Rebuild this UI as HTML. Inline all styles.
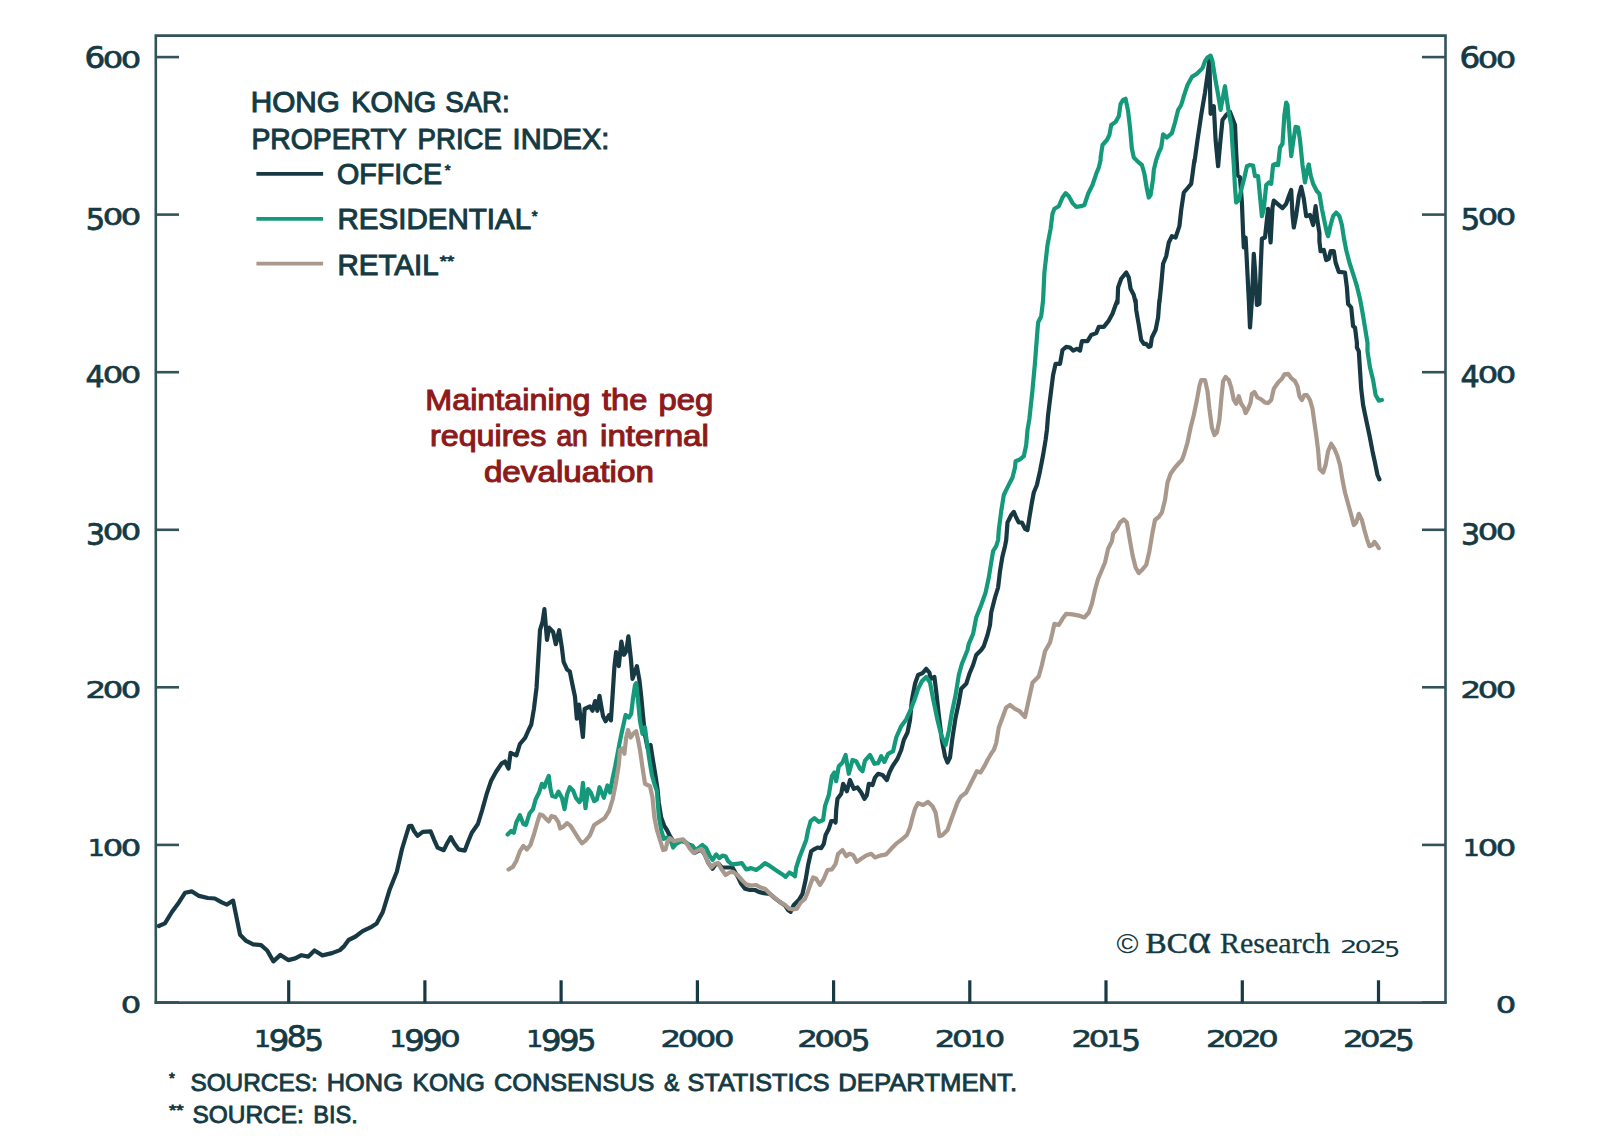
<!DOCTYPE html>
<html lang="en">
<head>
<meta charset="utf-8">
<title>Hong Kong SAR: Property Price Index</title>
<style>html,body{margin:0;padding:0;background:#fff;}body{width:1600px;height:1142px;overflow:hidden;}svg{display:block;}</style>
</head>
<body>
<svg width="1600" height="1142" viewBox="0 0 1600 1142" role="img" aria-label="Hong Kong SAR property price index chart">
<rect width="1600" height="1142" fill="#ffffff"/>
<path d="M158.8,926.0 L164.9,923.4 L171.9,912.0 L178.9,902.4 L185.0,892.8 L192.0,891.4 L199.0,895.9 L207.8,898.0 L214.8,898.5 L221.8,902.4 L227.0,904.6 L233.1,900.6 L235.8,913.8 L240.1,934.8 L246.2,940.9 L253.2,944.4 L261.1,945.2 L267.2,950.5 L273.4,961.4 L280.4,954.9 L288.2,960.1 L295.2,958.4 L301.4,955.2 L308.4,956.6 L314.5,950.5 L322.4,955.4 L332.0,953.1 L339.9,950.1 L344.2,946.1 L348.6,940.0 L355.6,936.5 L362.6,931.2 L370.5,927.4 L376.6,923.4 L382.8,912.0 L389.8,889.2 L396.8,871.8 L402.0,849.0 L409.0,826.2 L411.6,825.9 L414.0,831.0 L417.5,835.9 L422.8,831.9 L430.6,831.4 L434.1,839.8 L437.6,847.6 L443.8,850.2 L447.2,843.2 L450.8,837.1 L454.2,843.2 L458.6,849.4 L464.8,850.6 L468.2,841.5 L471.8,832.8 L477.9,824.0 L482.2,810.0 L486.6,794.2 L491.0,781.1 L496.2,771.5 L501.5,763.6 L505.0,761.5 L508.5,768.5 L510.6,752.8 L516.4,755.4 L519.9,744.0 L525.1,737.9 L528.6,730.0 L531.2,724.8 L533.9,709.0 L536.5,688.0 L538.2,660.0 L540.0,630.2 L542.6,621.5 L544.4,609.2 L547.0,639.9 L549.1,627.6 L553.1,632.0 L555.8,644.2 L559.2,630.2 L561.9,647.8 L563.6,661.8 L567.1,669.6 L569.8,671.4 L572.4,684.5 L575.0,696.8 L576.8,718.6 L578.9,704.6 L582.9,737.0 L584.6,709.0 L589.9,706.4 L592.5,710.8 L595.1,701.1 L597.4,710.8 L599.5,695.9 L603.0,716.0 L605.6,721.2 L609.1,715.1 L610.9,720.4 L612.6,695.0 L614.4,667.0 L616.1,652.1 L618.8,666.1 L621.4,641.6 L624.0,654.8 L626.3,651.2 L628.4,636.4 L631.0,660.0 L632.5,678.8 L636.9,666.2 L639.4,680.0 L641.2,696.2 L643.1,716.2 L645.0,735.0 L647.5,747.5 L650.6,745.0 L652.5,757.5 L655.0,772.5 L657.5,788.8 L658.8,802.8 L661.2,817.5 L664.4,826.2 L666.9,830.0 L670.0,836.2 L673.8,841.9 L678.8,840.6 L683.1,840.0 L687.5,843.8 L691.2,845.6 L695.0,852.5 L701.2,849.4 L705.0,855.0 L708.1,862.5 L712.5,868.8 L715.6,864.4 L718.8,863.8 L721.9,867.5 L726.2,867.5 L732.5,867.5 L737.5,876.2 L741.2,883.8 L745.0,888.8 L750.0,890.0 L755.0,890.0 L758.8,891.9 L763.8,893.1 L770.0,894.0 L775.0,898.4 L780.0,902.1 L785.0,905.4 L788.1,910.0 L790.6,911.9 L793.8,905.0 L798.8,900.0 L802.5,893.8 L805.6,880.0 L808.1,865.0 L811.2,851.2 L815.0,848.8 L817.5,847.5 L821.2,848.1 L823.8,843.8 L825.6,835.0 L828.8,828.8 L831.2,821.2 L835.0,821.2 L835.6,822.5 L836.2,810.0 L837.5,798.8 L841.2,793.8 L843.1,783.8 L846.9,791.2 L850.0,780.0 L853.8,788.8 L857.5,787.5 L861.2,792.5 L864.4,798.8 L866.9,795.0 L868.8,783.8 L872.5,785.0 L875.0,777.5 L878.1,773.8 L882.5,775.0 L886.9,780.0 L889.4,772.5 L892.5,766.2 L897.5,758.8 L901.2,750.0 L903.8,740.0 L907.5,732.5 L910.0,720.0 L911.9,700.0 L915.0,683.8 L918.1,675.0 L922.5,673.1 L926.2,668.8 L929.4,672.5 L930.6,678.8 L934.4,676.9 L936.2,691.2 L938.8,715.0 L941.9,740.0 L945.0,756.2 L947.5,762.5 L950.0,757.5 L952.5,737.5 L955.6,717.5 L958.8,702.5 L961.2,688.8 L966.2,683.8 L969.4,673.8 L973.1,665.0 L976.2,655.0 L981.2,650.0 L983.8,646.2 L987.5,635.0 L990.0,625.0 L991.2,612.5 L995.0,597.5 L998.1,587.5 L1000.0,571.2 L1002.5,556.2 L1005.0,546.2 L1006.2,540.0 L1007.5,522.5 L1011.2,515.0 L1013.8,511.9 L1016.2,517.5 L1018.8,522.5 L1021.9,522.5 L1025.0,528.8 L1027.5,530.0 L1029.4,517.5 L1031.9,502.5 L1033.8,492.5 L1036.9,485.0 L1040.0,471.2 L1043.1,455.0 L1045.6,440.0 L1046.9,430.0 L1048.1,415.0 L1051.2,390.0 L1053.1,375.0 L1055.6,363.8 L1060.0,363.8 L1062.5,350.0 L1066.2,346.9 L1070.0,347.5 L1073.1,350.6 L1076.9,348.8 L1080.0,350.6 L1081.9,341.2 L1087.5,341.2 L1091.2,335.0 L1096.2,333.1 L1098.8,326.9 L1103.8,326.9 L1108.8,320.6 L1112.5,313.8 L1115.6,305.0 L1117.5,300.0 L1117.5,302.8 L1118.1,287.5 L1121.2,278.8 L1126.2,272.5 L1128.8,277.5 L1130.6,288.8 L1133.8,295.0 L1135.6,302.8 L1135.6,300.0 L1136.2,310.0 L1138.8,325.0 L1141.2,340.0 L1143.8,343.8 L1146.2,343.8 L1148.8,346.9 L1150.6,346.2 L1151.9,337.5 L1155.6,330.0 L1158.1,317.5 L1159.4,300.0 L1159.4,302.8 L1161.2,285.0 L1163.1,263.8 L1166.2,256.2 L1168.8,242.5 L1171.9,236.2 L1175.6,237.5 L1179.4,226.2 L1181.2,210.0 L1183.8,192.5 L1188.1,187.5 L1191.2,183.8 L1193.1,170.0 L1194.4,160.0 L1194.4,162.5 L1197.5,140.0 L1201.2,115.0 L1205.0,92.5 L1207.5,75.0 L1209.4,60.0 L1210.6,113.8 L1213.8,106.2 L1215.6,140.0 L1218.1,166.2 L1220.0,145.0 L1222.5,120.0 L1226.2,115.0 L1230.0,111.9 L1235.0,125.0 L1236.2,152.5 L1237.5,175.0 L1240.0,177.5 L1241.9,202.5 L1243.1,232.8 L1243.8,247.5 L1245.6,237.5 L1246.9,262.5 L1248.8,300.0 L1250.0,327.5 L1251.9,300.0 L1253.8,253.8 L1255.0,270.0 L1256.9,305.0 L1259.4,303.8 L1260.6,270.0 L1261.9,238.8 L1265.0,237.5 L1268.1,208.8 L1270.6,242.5 L1272.5,207.5 L1273.8,200.6 L1277.5,203.8 L1282.5,208.1 L1286.2,203.8 L1288.8,196.2 L1291.2,190.0 L1292.5,215.0 L1293.8,227.5 L1296.2,215.0 L1298.8,196.2 L1301.2,186.9 L1303.8,198.8 L1306.2,216.2 L1310.0,215.0 L1313.1,225.0 L1315.6,206.2 L1317.5,221.2 L1319.4,232.8 L1319.4,241.2 L1320.6,251.2 L1323.8,250.0 L1326.2,260.0 L1328.8,258.8 L1330.6,251.2 L1333.8,251.2 L1335.6,262.5 L1338.8,271.9 L1345.0,272.5 L1346.9,287.5 L1348.1,303.8 L1351.2,307.5 L1353.1,326.2 L1355.0,327.5 L1356.9,342.8 L1356.9,347.5 L1358.8,351.2 L1360.0,370.0 L1361.2,388.8 L1363.1,405.0 L1366.2,420.0 L1369.4,435.0 L1372.5,451.2 L1375.0,462.8 L1377.5,475.0 L1379.4,479.4" fill="none" stroke="#173944" stroke-width="4.2" stroke-linejoin="round" stroke-linecap="round"/>
<path d="M507.6,834.5 L511.1,831.0 L513.8,832.8 L516.4,822.2 L519.9,815.2 L523.4,824.0 L526.0,824.9 L529.5,813.5 L533.0,809.1 L535.6,799.5 L539.1,792.5 L541.8,783.8 L544.4,787.2 L546.1,782.0 L548.8,775.9 L550.5,789.0 L552.2,796.0 L555.8,796.9 L558.4,791.6 L561.9,797.8 L564.5,809.1 L567.1,794.2 L569.8,787.2 L573.2,790.8 L575.9,797.8 L579.4,802.1 L581.1,799.5 L582.9,782.9 L585.5,808.2 L588.1,789.0 L590.8,792.5 L594.2,801.2 L596.9,799.5 L599.5,787.2 L603.9,797.8 L607.4,785.5 L610.0,792.5 L612.6,778.5 L615.2,766.2 L619.4,743.8 L621.2,735.0 L623.1,726.2 L625.6,715.0 L628.8,717.5 L631.2,713.8 L633.1,697.5 L635.0,685.0 L636.2,683.1 L638.1,701.2 L640.0,721.2 L642.5,733.8 L645.0,727.5 L646.9,742.5 L649.4,760.0 L651.9,775.0 L654.4,783.8 L656.9,791.2 L658.8,816.2 L661.2,830.0 L663.8,838.8 L666.9,837.5 L670.0,838.8 L673.1,847.5 L676.2,843.8 L681.2,841.2 L686.2,842.5 L690.0,846.2 L692.5,845.6 L695.6,850.0 L699.4,847.5 L702.5,845.0 L706.2,848.1 L709.4,855.0 L712.5,860.0 L716.2,854.4 L719.4,858.1 L722.5,855.6 L725.6,856.2 L728.1,861.2 L731.9,864.4 L736.9,863.8 L741.9,863.1 L746.2,869.4 L751.2,868.1 L756.2,870.0 L760.6,866.9 L765.0,863.1 L769.4,865.6 L773.8,868.8 L777.5,871.2 L782.5,874.4 L785.6,876.9 L789.4,872.5 L792.5,874.4 L795.0,876.2 L796.2,867.5 L799.4,857.5 L803.1,848.1 L806.2,840.0 L808.1,830.0 L810.6,821.2 L814.4,818.1 L818.8,821.9 L823.1,820.0 L825.0,806.2 L828.8,795.0 L831.9,776.2 L834.4,772.5 L836.2,781.2 L838.8,766.2 L842.5,762.5 L845.6,755.0 L848.8,773.8 L852.5,760.0 L856.2,761.2 L860.0,768.8 L862.5,771.2 L865.0,760.6 L870.0,755.0 L874.4,763.8 L878.1,763.1 L881.2,756.2 L884.4,761.9 L888.1,753.8 L893.1,751.2 L896.2,737.5 L901.2,726.2 L906.2,719.4 L910.0,711.2 L914.4,700.0 L918.1,688.8 L921.9,681.2 L926.2,676.9 L930.0,682.5 L933.1,698.8 L937.5,720.0 L941.2,735.0 L945.6,745.0 L948.8,731.2 L951.9,712.5 L955.6,695.0 L958.8,675.0 L961.9,663.8 L965.0,656.2 L967.5,650.0 L968.8,643.8 L973.1,633.8 L976.2,617.5 L981.2,605.0 L985.6,592.5 L988.8,577.5 L991.2,562.5 L993.1,551.2 L996.2,546.2 L998.1,540.0 L998.8,530.0 L1001.2,511.2 L1003.8,495.0 L1008.1,486.2 L1012.5,477.5 L1015.0,467.5 L1015.6,461.2 L1020.0,459.4 L1023.8,456.2 L1026.2,445.0 L1027.5,430.0 L1029.4,418.8 L1032.5,390.0 L1035.0,362.5 L1036.9,337.5 L1038.1,322.5 L1041.2,316.2 L1043.1,300.0 L1044.4,272.5 L1047.5,245.0 L1050.6,228.8 L1052.5,213.8 L1054.4,208.8 L1058.8,206.2 L1062.5,197.5 L1065.6,193.1 L1068.8,196.2 L1072.5,203.1 L1076.2,206.9 L1081.2,206.2 L1084.4,205.0 L1088.1,193.8 L1092.5,185.0 L1096.2,173.8 L1098.8,167.5 L1100.6,160.0 L1100.6,157.5 L1102.5,145.0 L1106.9,140.0 L1109.4,135.0 L1111.2,125.0 L1115.6,121.9 L1118.8,116.2 L1120.6,103.8 L1123.1,100.0 L1125.6,98.8 L1128.1,111.2 L1130.0,127.5 L1131.9,148.8 L1133.8,157.5 L1138.1,161.9 L1141.9,165.0 L1144.4,173.8 L1146.9,188.8 L1148.8,197.5 L1150.6,195.0 L1153.1,178.8 L1153.8,170.0 L1156.2,160.0 L1158.8,152.5 L1161.2,147.5 L1163.1,134.4 L1166.9,137.5 L1171.9,133.1 L1175.0,122.5 L1178.1,110.0 L1181.2,105.0 L1183.8,96.2 L1187.5,85.0 L1191.9,76.9 L1196.9,73.8 L1202.5,68.1 L1205.0,61.2 L1207.5,57.5 L1210.6,55.6 L1212.5,61.2 L1215.0,77.5 L1217.5,91.2 L1220.6,110.0 L1223.1,96.2 L1225.0,86.2 L1226.9,100.0 L1228.8,112.5 L1231.2,125.0 L1232.5,146.2 L1233.8,165.0 L1235.0,187.5 L1236.2,202.5 L1238.8,200.0 L1241.2,190.0 L1244.4,177.5 L1246.9,166.2 L1250.0,165.0 L1253.1,165.6 L1255.0,176.2 L1258.1,176.2 L1260.0,196.2 L1261.9,216.2 L1263.8,208.8 L1266.2,185.0 L1268.8,182.5 L1271.2,183.8 L1273.1,165.0 L1275.6,163.8 L1278.1,165.0 L1280.0,147.5 L1282.5,143.8 L1284.4,115.0 L1286.2,102.5 L1287.5,105.0 L1289.4,131.2 L1291.2,156.2 L1293.1,142.5 L1295.6,126.9 L1298.1,127.5 L1300.0,140.0 L1302.5,165.0 L1305.0,182.5 L1306.9,171.2 L1308.8,164.4 L1310.6,175.0 L1313.1,183.8 L1316.9,191.2 L1319.4,193.8 L1321.9,208.8 L1324.4,221.2 L1326.9,232.8 L1326.9,233.0 L1328.1,236.2 L1330.6,225.0 L1333.1,216.2 L1336.2,212.5 L1339.4,216.2 L1341.9,225.0 L1343.8,237.5 L1346.2,250.0 L1349.4,262.5 L1353.1,273.8 L1356.9,286.2 L1360.0,298.8 L1362.5,312.5 L1365.0,327.5 L1367.5,342.8 L1367.5,351.2 L1370.0,367.5 L1373.1,380.0 L1375.6,395.0 L1378.8,400.6 L1381.9,400.0" fill="none" stroke="#149a7a" stroke-width="4.2" stroke-linejoin="round" stroke-linecap="round"/>
<path d="M508.5,869.5 L512.9,866.9 L516.4,860.8 L519.9,851.1 L523.4,845.9 L526.9,849.4 L530.4,845.0 L533.9,834.5 L537.4,822.2 L540.0,814.4 L542.6,815.2 L545.2,817.9 L548.8,821.4 L551.4,816.1 L554.9,817.0 L558.4,822.2 L560.1,828.4 L563.6,826.6 L567.1,823.1 L570.6,825.8 L575.0,832.8 L579.4,839.8 L582.0,843.2 L585.5,840.6 L589.9,835.4 L594.2,824.9 L599.5,821.4 L604.8,817.9 L609.1,810.9 L612.6,799.5 L616.1,782.0 L618.8,764.5 L620.0,750.0 L623.1,748.1 L624.4,753.8 L626.2,737.5 L628.1,730.0 L630.6,737.5 L633.1,733.8 L636.2,731.2 L638.1,740.0 L640.0,750.0 L642.5,767.5 L645.0,783.8 L647.5,785.0 L650.0,786.2 L652.5,797.5 L654.4,817.5 L656.9,830.0 L660.0,840.0 L663.1,850.0 L665.6,849.4 L667.5,841.2 L670.0,838.1 L673.8,841.2 L678.8,840.0 L683.1,839.4 L686.9,843.8 L690.0,848.8 L693.8,853.1 L697.5,850.6 L701.2,848.8 L705.0,855.0 L708.1,862.5 L711.2,867.5 L715.0,863.8 L718.1,863.1 L721.2,868.8 L725.6,875.0 L729.4,872.5 L733.1,871.9 L737.5,875.0 L741.9,880.0 L746.2,884.4 L751.2,885.6 L756.2,885.0 L760.6,887.5 L765.0,888.8 L770.0,893.8 L775.0,898.1 L780.0,901.9 L785.0,905.0 L789.4,908.8 L793.1,909.4 L796.9,908.8 L800.6,902.5 L805.0,898.8 L808.1,891.2 L810.6,883.8 L813.1,877.5 L816.2,878.8 L820.0,885.0 L823.8,878.8 L827.5,870.0 L831.9,869.4 L835.6,863.8 L838.1,853.8 L842.5,850.0 L846.2,856.2 L849.4,853.8 L853.1,855.0 L856.9,861.9 L861.2,858.8 L866.2,855.6 L871.2,853.8 L875.0,857.5 L880.0,855.6 L886.2,854.4 L891.2,848.8 L896.9,843.1 L901.9,839.4 L906.9,835.0 L910.0,827.5 L912.5,817.5 L915.0,808.8 L918.1,803.1 L923.1,805.0 L928.1,801.9 L932.5,806.2 L935.6,812.5 L937.5,823.8 L939.4,836.2 L942.5,835.0 L947.5,830.0 L950.6,821.2 L953.8,812.5 L957.5,802.5 L960.6,796.9 L966.2,792.5 L970.0,785.0 L973.8,777.5 L976.9,771.2 L980.6,772.5 L984.4,766.2 L987.5,760.0 L991.9,752.5 L993.8,750.0 L996.2,743.1 L998.8,727.5 L1002.5,717.5 L1006.2,707.5 L1010.0,705.0 L1015.0,708.8 L1019.6,711.2 L1025.0,717.0 L1032.5,682.8 L1038.8,676.2 L1041.9,665.0 L1045.0,651.2 L1050.0,642.5 L1052.5,632.5 L1054.4,623.8 L1058.8,625.0 L1062.5,618.8 L1066.2,613.8 L1072.5,614.4 L1078.8,615.6 L1084.4,617.5 L1088.8,612.5 L1091.9,603.8 L1095.0,590.0 L1098.1,578.8 L1101.9,570.0 L1105.0,562.5 L1108.1,548.8 L1111.9,541.2 L1113.1,533.8 L1116.9,528.8 L1120.0,522.5 L1123.8,519.4 L1126.9,522.5 L1129.4,537.5 L1132.5,555.0 L1135.6,567.5 L1138.8,573.1 L1142.5,569.4 L1146.2,565.0 L1149.4,551.2 L1152.5,532.5 L1155.0,520.0 L1158.8,516.9 L1161.9,512.5 L1165.0,500.0 L1167.5,482.5 L1170.6,473.8 L1175.0,467.5 L1179.4,462.5 L1181.9,460.0 L1183.8,455.0 L1187.5,442.5 L1190.6,427.5 L1193.8,415.0 L1196.9,400.0 L1199.4,386.2 L1201.2,380.0 L1205.0,380.0 L1207.5,391.2 L1209.4,408.8 L1211.9,427.5 L1214.4,435.0 L1216.9,432.5 L1219.4,420.0 L1221.2,400.0 L1223.1,381.2 L1225.6,376.9 L1228.8,380.0 L1231.2,387.5 L1233.8,400.0 L1236.2,403.8 L1238.8,396.2 L1241.2,403.8 L1243.8,407.5 L1245.6,413.1 L1248.1,408.8 L1250.6,402.5 L1251.9,393.8 L1254.4,391.9 L1257.5,397.5 L1261.2,399.4 L1265.0,402.5 L1268.1,403.1 L1271.2,400.0 L1273.8,388.8 L1278.1,382.5 L1281.9,378.8 L1284.4,374.4 L1288.1,373.8 L1291.2,378.1 L1295.0,381.2 L1297.5,386.2 L1299.4,396.2 L1301.9,400.0 L1304.4,395.0 L1306.9,395.0 L1310.0,400.0 L1312.5,408.8 L1314.4,422.5 L1316.2,435.0 L1318.1,450.0 L1319.6,468.8 L1320.6,470.0 L1323.1,472.5 L1325.6,465.0 L1328.1,451.2 L1331.2,443.8 L1334.4,448.8 L1337.5,456.2 L1340.0,465.0 L1342.5,480.0 L1345.0,492.5 L1348.1,503.8 L1351.2,515.0 L1353.8,525.0 L1356.2,522.5 L1358.8,513.8 L1361.9,520.0 L1364.4,530.0 L1366.9,538.8 L1369.4,546.2 L1372.5,545.0 L1374.4,541.9 L1376.9,545.0 L1378.8,548.1" fill="none" stroke="#a9988c" stroke-width="4.2" stroke-linejoin="round" stroke-linecap="round"/>
<g stroke="#33535b" stroke-width="2.6" fill="none" stroke-linecap="butt">
<path d="M155.8,1003.8000000000001 V35.6 H1445.5 V1003.8000000000001"/>
<path d="M154.60000000000002,1002.6 H1446.7"/>
<path d="M155.8,1002.4 H179"/>
<path d="M1422,1002.4 H1445.5"/>
<path d="M155.8,844.9 H179"/>
<path d="M1422,844.9 H1445.5"/>
<path d="M155.8,687.3 H179"/>
<path d="M1422,687.3 H1445.5"/>
<path d="M155.8,529.8 H179"/>
<path d="M1422,529.8 H1445.5"/>
<path d="M155.8,372.2 H179"/>
<path d="M1422,372.2 H1445.5"/>
<path d="M155.8,214.6 H179"/>
<path d="M1422,214.6 H1445.5"/>
<path d="M155.8,57.1 H179"/>
<path d="M1422,57.1 H1445.5"/>
</g>
<g stroke="#173944" stroke-width="3.2" fill="none">
<path d="M288.7,1002.6 V980.3"/>
<path d="M424.9,1002.6 V980.3"/>
<path d="M561.1,1002.6 V980.3"/>
<path d="M697.4,1002.6 V980.3"/>
<path d="M833.6,1002.6 V980.3"/>
<path d="M969.8,1002.6 V980.3"/>
<path d="M1106.0,1002.6 V980.3"/>
<path d="M1242.3,1002.6 V980.3"/>
<path d="M1378.5,1002.6 V980.3"/>
</g>
<text aria-label="0" font-family="'DejaVu Sans', 'Liberation Sans', sans-serif" fill="#143a44" stroke="#143a44"><tspan x="120.87" y="1013.0" font-size="23.20" stroke-width="0.6" textLength="20.49" lengthAdjust="spacingAndGlyphs">0</tspan></text>
<text aria-label="0" font-family="'DejaVu Sans', 'Liberation Sans', sans-serif" fill="#143a44" stroke="#143a44"><tspan x="1495.87" y="1013.0" font-size="23.20" stroke-width="0.6" textLength="20.49" lengthAdjust="spacingAndGlyphs">0</tspan></text>
<text aria-label="100" font-family="'DejaVu Sans', 'Liberation Sans', sans-serif" fill="#143a44" stroke="#143a44"><tspan x="87.80" y="855.5" font-size="23.20" stroke-width="0.6" textLength="17.04" lengthAdjust="spacingAndGlyphs">1</tspan><tspan x="102.67" y="855.5" font-size="23.20" stroke-width="0.6" textLength="20.49" lengthAdjust="spacingAndGlyphs">0</tspan><tspan x="120.87" y="855.5" font-size="23.20" stroke-width="0.6" textLength="20.49" lengthAdjust="spacingAndGlyphs">0</tspan></text>
<text aria-label="100" font-family="'DejaVu Sans', 'Liberation Sans', sans-serif" fill="#143a44" stroke="#143a44"><tspan x="1462.80" y="855.5" font-size="23.20" stroke-width="0.6" textLength="17.04" lengthAdjust="spacingAndGlyphs">1</tspan><tspan x="1477.67" y="855.5" font-size="23.20" stroke-width="0.6" textLength="20.49" lengthAdjust="spacingAndGlyphs">0</tspan><tspan x="1495.87" y="855.5" font-size="23.20" stroke-width="0.6" textLength="20.49" lengthAdjust="spacingAndGlyphs">0</tspan></text>
<text aria-label="200" font-family="'DejaVu Sans', 'Liberation Sans', sans-serif" fill="#143a44" stroke="#143a44"><tspan x="85.53" y="697.9" font-size="23.20" stroke-width="0.6" textLength="20.66" lengthAdjust="spacingAndGlyphs">2</tspan><tspan x="102.67" y="697.9" font-size="23.20" stroke-width="0.6" textLength="20.49" lengthAdjust="spacingAndGlyphs">0</tspan><tspan x="120.87" y="697.9" font-size="23.20" stroke-width="0.6" textLength="20.49" lengthAdjust="spacingAndGlyphs">0</tspan></text>
<text aria-label="200" font-family="'DejaVu Sans', 'Liberation Sans', sans-serif" fill="#143a44" stroke="#143a44"><tspan x="1460.53" y="697.9" font-size="23.20" stroke-width="0.6" textLength="20.66" lengthAdjust="spacingAndGlyphs">2</tspan><tspan x="1477.67" y="697.9" font-size="23.20" stroke-width="0.6" textLength="20.49" lengthAdjust="spacingAndGlyphs">0</tspan><tspan x="1495.87" y="697.9" font-size="23.20" stroke-width="0.6" textLength="20.49" lengthAdjust="spacingAndGlyphs">0</tspan></text>
<text aria-label="300" font-family="'DejaVu Sans', 'Liberation Sans', sans-serif" fill="#143a44" stroke="#143a44"><tspan x="85.92" y="544.9" font-size="29.30" stroke-width="0.75" textLength="19.13" lengthAdjust="spacingAndGlyphs">3</tspan><tspan x="102.67" y="540.4" font-size="23.20" stroke-width="0.6" textLength="20.49" lengthAdjust="spacingAndGlyphs">0</tspan><tspan x="120.87" y="540.4" font-size="23.20" stroke-width="0.6" textLength="20.49" lengthAdjust="spacingAndGlyphs">0</tspan></text>
<text aria-label="300" font-family="'DejaVu Sans', 'Liberation Sans', sans-serif" fill="#143a44" stroke="#143a44"><tspan x="1460.92" y="544.9" font-size="29.30" stroke-width="0.75" textLength="19.13" lengthAdjust="spacingAndGlyphs">3</tspan><tspan x="1477.67" y="540.4" font-size="23.20" stroke-width="0.6" textLength="20.49" lengthAdjust="spacingAndGlyphs">0</tspan><tspan x="1495.87" y="540.4" font-size="23.20" stroke-width="0.6" textLength="20.49" lengthAdjust="spacingAndGlyphs">0</tspan></text>
<text aria-label="400" font-family="'DejaVu Sans', 'Liberation Sans', sans-serif" fill="#143a44" stroke="#143a44"><tspan x="85.52" y="387.3" font-size="29.30" stroke-width="0.75" textLength="19.21" lengthAdjust="spacingAndGlyphs">4</tspan><tspan x="102.67" y="382.8" font-size="23.20" stroke-width="0.6" textLength="20.49" lengthAdjust="spacingAndGlyphs">0</tspan><tspan x="120.87" y="382.8" font-size="23.20" stroke-width="0.6" textLength="20.49" lengthAdjust="spacingAndGlyphs">0</tspan></text>
<text aria-label="400" font-family="'DejaVu Sans', 'Liberation Sans', sans-serif" fill="#143a44" stroke="#143a44"><tspan x="1460.52" y="387.3" font-size="29.30" stroke-width="0.75" textLength="19.21" lengthAdjust="spacingAndGlyphs">4</tspan><tspan x="1477.67" y="382.8" font-size="23.20" stroke-width="0.6" textLength="20.49" lengthAdjust="spacingAndGlyphs">0</tspan><tspan x="1495.87" y="382.8" font-size="23.20" stroke-width="0.6" textLength="20.49" lengthAdjust="spacingAndGlyphs">0</tspan></text>
<text aria-label="500" font-family="'DejaVu Sans', 'Liberation Sans', sans-serif" fill="#143a44" stroke="#143a44"><tspan x="85.75" y="229.7" font-size="29.30" stroke-width="0.75" textLength="19.45" lengthAdjust="spacingAndGlyphs">5</tspan><tspan x="102.67" y="225.2" font-size="23.20" stroke-width="0.6" textLength="20.49" lengthAdjust="spacingAndGlyphs">0</tspan><tspan x="120.87" y="225.2" font-size="23.20" stroke-width="0.6" textLength="20.49" lengthAdjust="spacingAndGlyphs">0</tspan></text>
<text aria-label="500" font-family="'DejaVu Sans', 'Liberation Sans', sans-serif" fill="#143a44" stroke="#143a44"><tspan x="1460.75" y="229.7" font-size="29.30" stroke-width="0.75" textLength="19.45" lengthAdjust="spacingAndGlyphs">5</tspan><tspan x="1477.67" y="225.2" font-size="23.20" stroke-width="0.6" textLength="20.49" lengthAdjust="spacingAndGlyphs">0</tspan><tspan x="1495.87" y="225.2" font-size="23.20" stroke-width="0.6" textLength="20.49" lengthAdjust="spacingAndGlyphs">0</tspan></text>
<text aria-label="600" font-family="'DejaVu Sans', 'Liberation Sans', sans-serif" fill="#143a44" stroke="#143a44"><tspan x="84.41" y="67.7" font-size="29.30" stroke-width="0.75" textLength="20.79" lengthAdjust="spacingAndGlyphs">6</tspan><tspan x="102.67" y="67.7" font-size="23.20" stroke-width="0.6" textLength="20.49" lengthAdjust="spacingAndGlyphs">0</tspan><tspan x="120.87" y="67.7" font-size="23.20" stroke-width="0.6" textLength="20.49" lengthAdjust="spacingAndGlyphs">0</tspan></text>
<text aria-label="600" font-family="'DejaVu Sans', 'Liberation Sans', sans-serif" fill="#143a44" stroke="#143a44"><tspan x="1459.41" y="67.7" font-size="29.30" stroke-width="0.75" textLength="20.79" lengthAdjust="spacingAndGlyphs">6</tspan><tspan x="1477.67" y="67.7" font-size="23.20" stroke-width="0.6" textLength="20.49" lengthAdjust="spacingAndGlyphs">0</tspan><tspan x="1495.87" y="67.7" font-size="23.20" stroke-width="0.6" textLength="20.49" lengthAdjust="spacingAndGlyphs">0</tspan></text>
<text aria-label="1985" font-family="'DejaVu Sans', 'Liberation Sans', sans-serif" fill="#143a44" stroke="#143a44"><tspan x="254.00" y="1046.8" font-size="23.20" stroke-width="0.6" textLength="17.04" lengthAdjust="spacingAndGlyphs">1</tspan><tspan x="268.82" y="1051.3" font-size="29.30" stroke-width="0.75" textLength="20.53" lengthAdjust="spacingAndGlyphs">9</tspan><tspan x="286.77" y="1046.8" font-size="29.30" stroke-width="0.75" textLength="19.89" lengthAdjust="spacingAndGlyphs">8</tspan><tspan x="304.45" y="1051.3" font-size="29.30" stroke-width="0.75" textLength="19.45" lengthAdjust="spacingAndGlyphs">5</tspan></text>
<text aria-label="1990" font-family="'DejaVu Sans', 'Liberation Sans', sans-serif" fill="#143a44" stroke="#143a44"><tspan x="389.48" y="1046.8" font-size="23.20" stroke-width="0.6" textLength="17.04" lengthAdjust="spacingAndGlyphs">1</tspan><tspan x="404.29" y="1051.3" font-size="29.30" stroke-width="0.75" textLength="20.53" lengthAdjust="spacingAndGlyphs">9</tspan><tspan x="422.19" y="1051.3" font-size="29.30" stroke-width="0.75" textLength="20.53" lengthAdjust="spacingAndGlyphs">9</tspan><tspan x="440.15" y="1046.8" font-size="23.20" stroke-width="0.6" textLength="20.49" lengthAdjust="spacingAndGlyphs">0</tspan></text>
<text aria-label="1995" font-family="'DejaVu Sans', 'Liberation Sans', sans-serif" fill="#143a44" stroke="#143a44"><tspan x="526.30" y="1046.8" font-size="23.20" stroke-width="0.6" textLength="17.04" lengthAdjust="spacingAndGlyphs">1</tspan><tspan x="541.12" y="1051.3" font-size="29.30" stroke-width="0.75" textLength="20.53" lengthAdjust="spacingAndGlyphs">9</tspan><tspan x="559.02" y="1051.3" font-size="29.30" stroke-width="0.75" textLength="20.53" lengthAdjust="spacingAndGlyphs">9</tspan><tspan x="577.05" y="1051.3" font-size="29.30" stroke-width="0.75" textLength="19.45" lengthAdjust="spacingAndGlyphs">5</tspan></text>
<text aria-label="2000" font-family="'DejaVu Sans', 'Liberation Sans', sans-serif" fill="#143a44" stroke="#143a44"><tspan x="660.50" y="1046.8" font-size="23.20" stroke-width="0.6" textLength="20.66" lengthAdjust="spacingAndGlyphs">2</tspan><tspan x="677.65" y="1046.8" font-size="23.20" stroke-width="0.6" textLength="20.49" lengthAdjust="spacingAndGlyphs">0</tspan><tspan x="695.85" y="1046.8" font-size="23.20" stroke-width="0.6" textLength="20.49" lengthAdjust="spacingAndGlyphs">0</tspan><tspan x="714.05" y="1046.8" font-size="23.20" stroke-width="0.6" textLength="20.49" lengthAdjust="spacingAndGlyphs">0</tspan></text>
<text aria-label="2005" font-family="'DejaVu Sans', 'Liberation Sans', sans-serif" fill="#143a44" stroke="#143a44"><tspan x="797.33" y="1046.8" font-size="23.20" stroke-width="0.6" textLength="20.66" lengthAdjust="spacingAndGlyphs">2</tspan><tspan x="814.47" y="1046.8" font-size="23.20" stroke-width="0.6" textLength="20.49" lengthAdjust="spacingAndGlyphs">0</tspan><tspan x="832.67" y="1046.8" font-size="23.20" stroke-width="0.6" textLength="20.49" lengthAdjust="spacingAndGlyphs">0</tspan><tspan x="850.95" y="1051.3" font-size="29.30" stroke-width="0.75" textLength="19.45" lengthAdjust="spacingAndGlyphs">5</tspan></text>
<text aria-label="2010" font-family="'DejaVu Sans', 'Liberation Sans', sans-serif" fill="#143a44" stroke="#143a44"><tspan x="934.80" y="1046.8" font-size="23.20" stroke-width="0.6" textLength="20.66" lengthAdjust="spacingAndGlyphs">2</tspan><tspan x="951.95" y="1046.8" font-size="23.20" stroke-width="0.6" textLength="20.49" lengthAdjust="spacingAndGlyphs">0</tspan><tspan x="969.78" y="1046.8" font-size="23.20" stroke-width="0.6" textLength="17.04" lengthAdjust="spacingAndGlyphs">1</tspan><tspan x="984.65" y="1046.8" font-size="23.20" stroke-width="0.6" textLength="20.49" lengthAdjust="spacingAndGlyphs">0</tspan></text>
<text aria-label="2015" font-family="'DejaVu Sans', 'Liberation Sans', sans-serif" fill="#143a44" stroke="#143a44"><tspan x="1071.63" y="1046.8" font-size="23.20" stroke-width="0.6" textLength="20.66" lengthAdjust="spacingAndGlyphs">2</tspan><tspan x="1088.77" y="1046.8" font-size="23.20" stroke-width="0.6" textLength="20.49" lengthAdjust="spacingAndGlyphs">0</tspan><tspan x="1106.60" y="1046.8" font-size="23.20" stroke-width="0.6" textLength="17.04" lengthAdjust="spacingAndGlyphs">1</tspan><tspan x="1121.55" y="1051.3" font-size="29.30" stroke-width="0.75" textLength="19.45" lengthAdjust="spacingAndGlyphs">5</tspan></text>
<text aria-label="2020" font-family="'DejaVu Sans', 'Liberation Sans', sans-serif" fill="#143a44" stroke="#143a44"><tspan x="1206.10" y="1046.8" font-size="23.20" stroke-width="0.6" textLength="20.66" lengthAdjust="spacingAndGlyphs">2</tspan><tspan x="1223.25" y="1046.8" font-size="23.20" stroke-width="0.6" textLength="20.49" lengthAdjust="spacingAndGlyphs">0</tspan><tspan x="1241.10" y="1046.8" font-size="23.20" stroke-width="0.6" textLength="20.66" lengthAdjust="spacingAndGlyphs">2</tspan><tspan x="1258.25" y="1046.8" font-size="23.20" stroke-width="0.6" textLength="20.49" lengthAdjust="spacingAndGlyphs">0</tspan></text>
<text aria-label="2025" font-family="'DejaVu Sans', 'Liberation Sans', sans-serif" fill="#143a44" stroke="#143a44"><tspan x="1342.93" y="1046.8" font-size="23.20" stroke-width="0.6" textLength="20.66" lengthAdjust="spacingAndGlyphs">2</tspan><tspan x="1360.07" y="1046.8" font-size="23.20" stroke-width="0.6" textLength="20.49" lengthAdjust="spacingAndGlyphs">0</tspan><tspan x="1377.93" y="1046.8" font-size="23.20" stroke-width="0.6" textLength="20.66" lengthAdjust="spacingAndGlyphs">2</tspan><tspan x="1395.15" y="1051.3" font-size="29.30" stroke-width="0.75" textLength="19.45" lengthAdjust="spacingAndGlyphs">5</tspan></text>
<text aria-label="HONG KONG SAR:" font-family="'Liberation Sans', sans-serif" font-size="29" fill="#143a44" stroke="#143a44" stroke-width="1.05"><tspan x="250.7" y="112" textLength="89.1" lengthAdjust="spacingAndGlyphs">HONG</tspan> <tspan x="351.3" y="112" textLength="84.9" lengthAdjust="spacingAndGlyphs">KONG</tspan> <tspan x="445.2" y="112" textLength="64.6" lengthAdjust="spacingAndGlyphs">SAR:</tspan></text>
<text aria-label="PROPERTY PRICE INDEX:" font-family="'Liberation Sans', sans-serif" font-size="29" fill="#143a44" stroke="#143a44" stroke-width="1.05"><tspan x="251.4" y="148.8" textLength="154.8" lengthAdjust="spacingAndGlyphs">PROPERTY</tspan> <tspan x="417.6" y="148.8" textLength="84.4" lengthAdjust="spacingAndGlyphs">PRICE</tspan> <tspan x="512.6" y="148.8" textLength="96.8" lengthAdjust="spacingAndGlyphs">INDEX:</tspan></text>
<path d="M256.4,173.8 H323.1" stroke="#173944" stroke-width="3.8"/>
<path d="M256.4,218.8 H323.1" stroke="#149a7a" stroke-width="3.8"/>
<path d="M256.4,263.6 H323.1" stroke="#a9988c" stroke-width="3.8"/>
<text font-family="'Liberation Sans', sans-serif" font-size="29" fill="#143a44" stroke="#143a44" stroke-width="1.05"><tspan x="337" y="183.8" textLength="105.0" lengthAdjust="spacingAndGlyphs">OFFICE</tspan><tspan x="444.8" y="175.2" font-size="15" stroke-width="0.8">*</tspan></text>
<text font-family="'Liberation Sans', sans-serif" font-size="29" fill="#143a44" stroke="#143a44" stroke-width="1.05"><tspan x="337.5" y="229.3" textLength="193.7" lengthAdjust="spacingAndGlyphs">RESIDENTIAL</tspan><tspan x="531.8" y="220.7" font-size="15" stroke-width="0.8">*</tspan></text>
<text font-family="'Liberation Sans', sans-serif" font-size="29" fill="#143a44" stroke="#143a44" stroke-width="1.05"><tspan x="337.5" y="274.6" textLength="101.2" lengthAdjust="spacingAndGlyphs">RETAIL</tspan><tspan x="439.8" y="266" font-size="15" stroke-width="0.8" textLength="14.5" lengthAdjust="spacingAndGlyphs">**</tspan></text>
<text aria-label="Maintaining the peg" font-family="'Liberation Sans', sans-serif" font-size="29" fill="#8e1a1a" stroke="#8e1a1a" stroke-width="1.05"><tspan x="425.3" y="410.4" textLength="165.3" lengthAdjust="spacingAndGlyphs">Maintaining</tspan> <tspan x="602" y="410.4" textLength="45.4" lengthAdjust="spacingAndGlyphs">the</tspan> <tspan x="658.4" y="410.4" textLength="54.8" lengthAdjust="spacingAndGlyphs">peg</tspan></text>
<text aria-label="requires an internal" font-family="'Liberation Sans', sans-serif" font-size="29" fill="#8e1a1a" stroke="#8e1a1a" stroke-width="1.05"><tspan x="430" y="446.1" textLength="116.4" lengthAdjust="spacingAndGlyphs">requires</tspan> <tspan x="556.4" y="446.1" textLength="31.4" lengthAdjust="spacingAndGlyphs">an</tspan> <tspan x="600" y="446.1" textLength="109.0" lengthAdjust="spacingAndGlyphs">internal</tspan></text>
<text x="568.9" y="482" font-family="'Liberation Sans', sans-serif" font-size="29" font-weight="normal" fill="#8e1a1a" stroke="#8e1a1a" stroke-width="1.05" text-anchor="middle" textLength="170" lengthAdjust="spacingAndGlyphs">devaluation</text>
<text x="1116.5" y="953.2" font-family="'Liberation Sans', sans-serif" font-size="27" font-weight="normal" fill="#143a44" text-anchor="start" textLength="22" lengthAdjust="spacingAndGlyphs">©</text>
<text x="1145.6" y="953" font-family="'Liberation Serif', serif" font-size="29.5" fill="#143a44" stroke="#143a44" stroke-width="0.6" textLength="65.5" lengthAdjust="spacingAndGlyphs">BC<tspan font-size="41.5" stroke-width="0.3">α</tspan></text>
<text x="1220" y="953" font-family="'Liberation Serif', serif" font-size="29.5" font-weight="normal" fill="#143a44" stroke="#143a44" stroke-width="0.3" text-anchor="start" textLength="110" lengthAdjust="spacingAndGlyphs">Research</text>
<text aria-label="2025" font-family="'DejaVu Sans', 'Liberation Sans', sans-serif" fill="#143a44" stroke="#143a44"><tspan x="1339.96" y="953.2" font-size="17.28" stroke-width="0" textLength="17.46" lengthAdjust="spacingAndGlyphs">2</tspan><tspan x="1354.44" y="953.2" font-size="17.28" stroke-width="0" textLength="17.31" lengthAdjust="spacingAndGlyphs">0</tspan><tspan x="1369.53" y="953.2" font-size="17.28" stroke-width="0" textLength="17.46" lengthAdjust="spacingAndGlyphs">2</tspan><tspan x="1384.08" y="956.6" font-size="21.83" stroke-width="0" textLength="16.44" lengthAdjust="spacingAndGlyphs">5</tspan></text>
<text aria-label="* SOURCES: HONG KONG CONSENSUS &amp; STATISTICS DEPARTMENT." font-family="'Liberation Sans', sans-serif" font-size="24.5" fill="#143a44" stroke="#143a44" stroke-width="0.85"><tspan x="169" y="1083" font-size="15" stroke-width="0.8">*</tspan> <tspan x="190.4" y="1091" textLength="127.3" lengthAdjust="spacingAndGlyphs">SOURCES:</tspan> <tspan x="326.8" y="1091" textLength="76.1" lengthAdjust="spacingAndGlyphs">HONG</tspan> <tspan x="412.6" y="1091" textLength="72.4" lengthAdjust="spacingAndGlyphs">KONG</tspan> <tspan x="493.9" y="1091" textLength="160.5" lengthAdjust="spacingAndGlyphs">CONSENSUS</tspan> <tspan x="664" y="1091" textLength="15.3" lengthAdjust="spacingAndGlyphs">&amp;</tspan> <tspan x="687.5" y="1091" textLength="142.1" lengthAdjust="spacingAndGlyphs">STATISTICS</tspan> <tspan x="838.3" y="1091" textLength="178.8" lengthAdjust="spacingAndGlyphs">DEPARTMENT.</tspan></text>
<text aria-label="** SOURCE: BIS." font-family="'Liberation Sans', sans-serif" font-size="24.5" fill="#143a44" stroke="#143a44" stroke-width="0.85"><tspan x="169" y="1114.5" font-size="15" stroke-width="0.8" textLength="14.6" lengthAdjust="spacingAndGlyphs">**</tspan> <tspan x="192.4" y="1122.5" textLength="111.5" lengthAdjust="spacingAndGlyphs">SOURCE:</tspan> <tspan x="313.3" y="1122.5" textLength="44.6" lengthAdjust="spacingAndGlyphs">BIS.</tspan></text>
</svg>
</body>
</html>
